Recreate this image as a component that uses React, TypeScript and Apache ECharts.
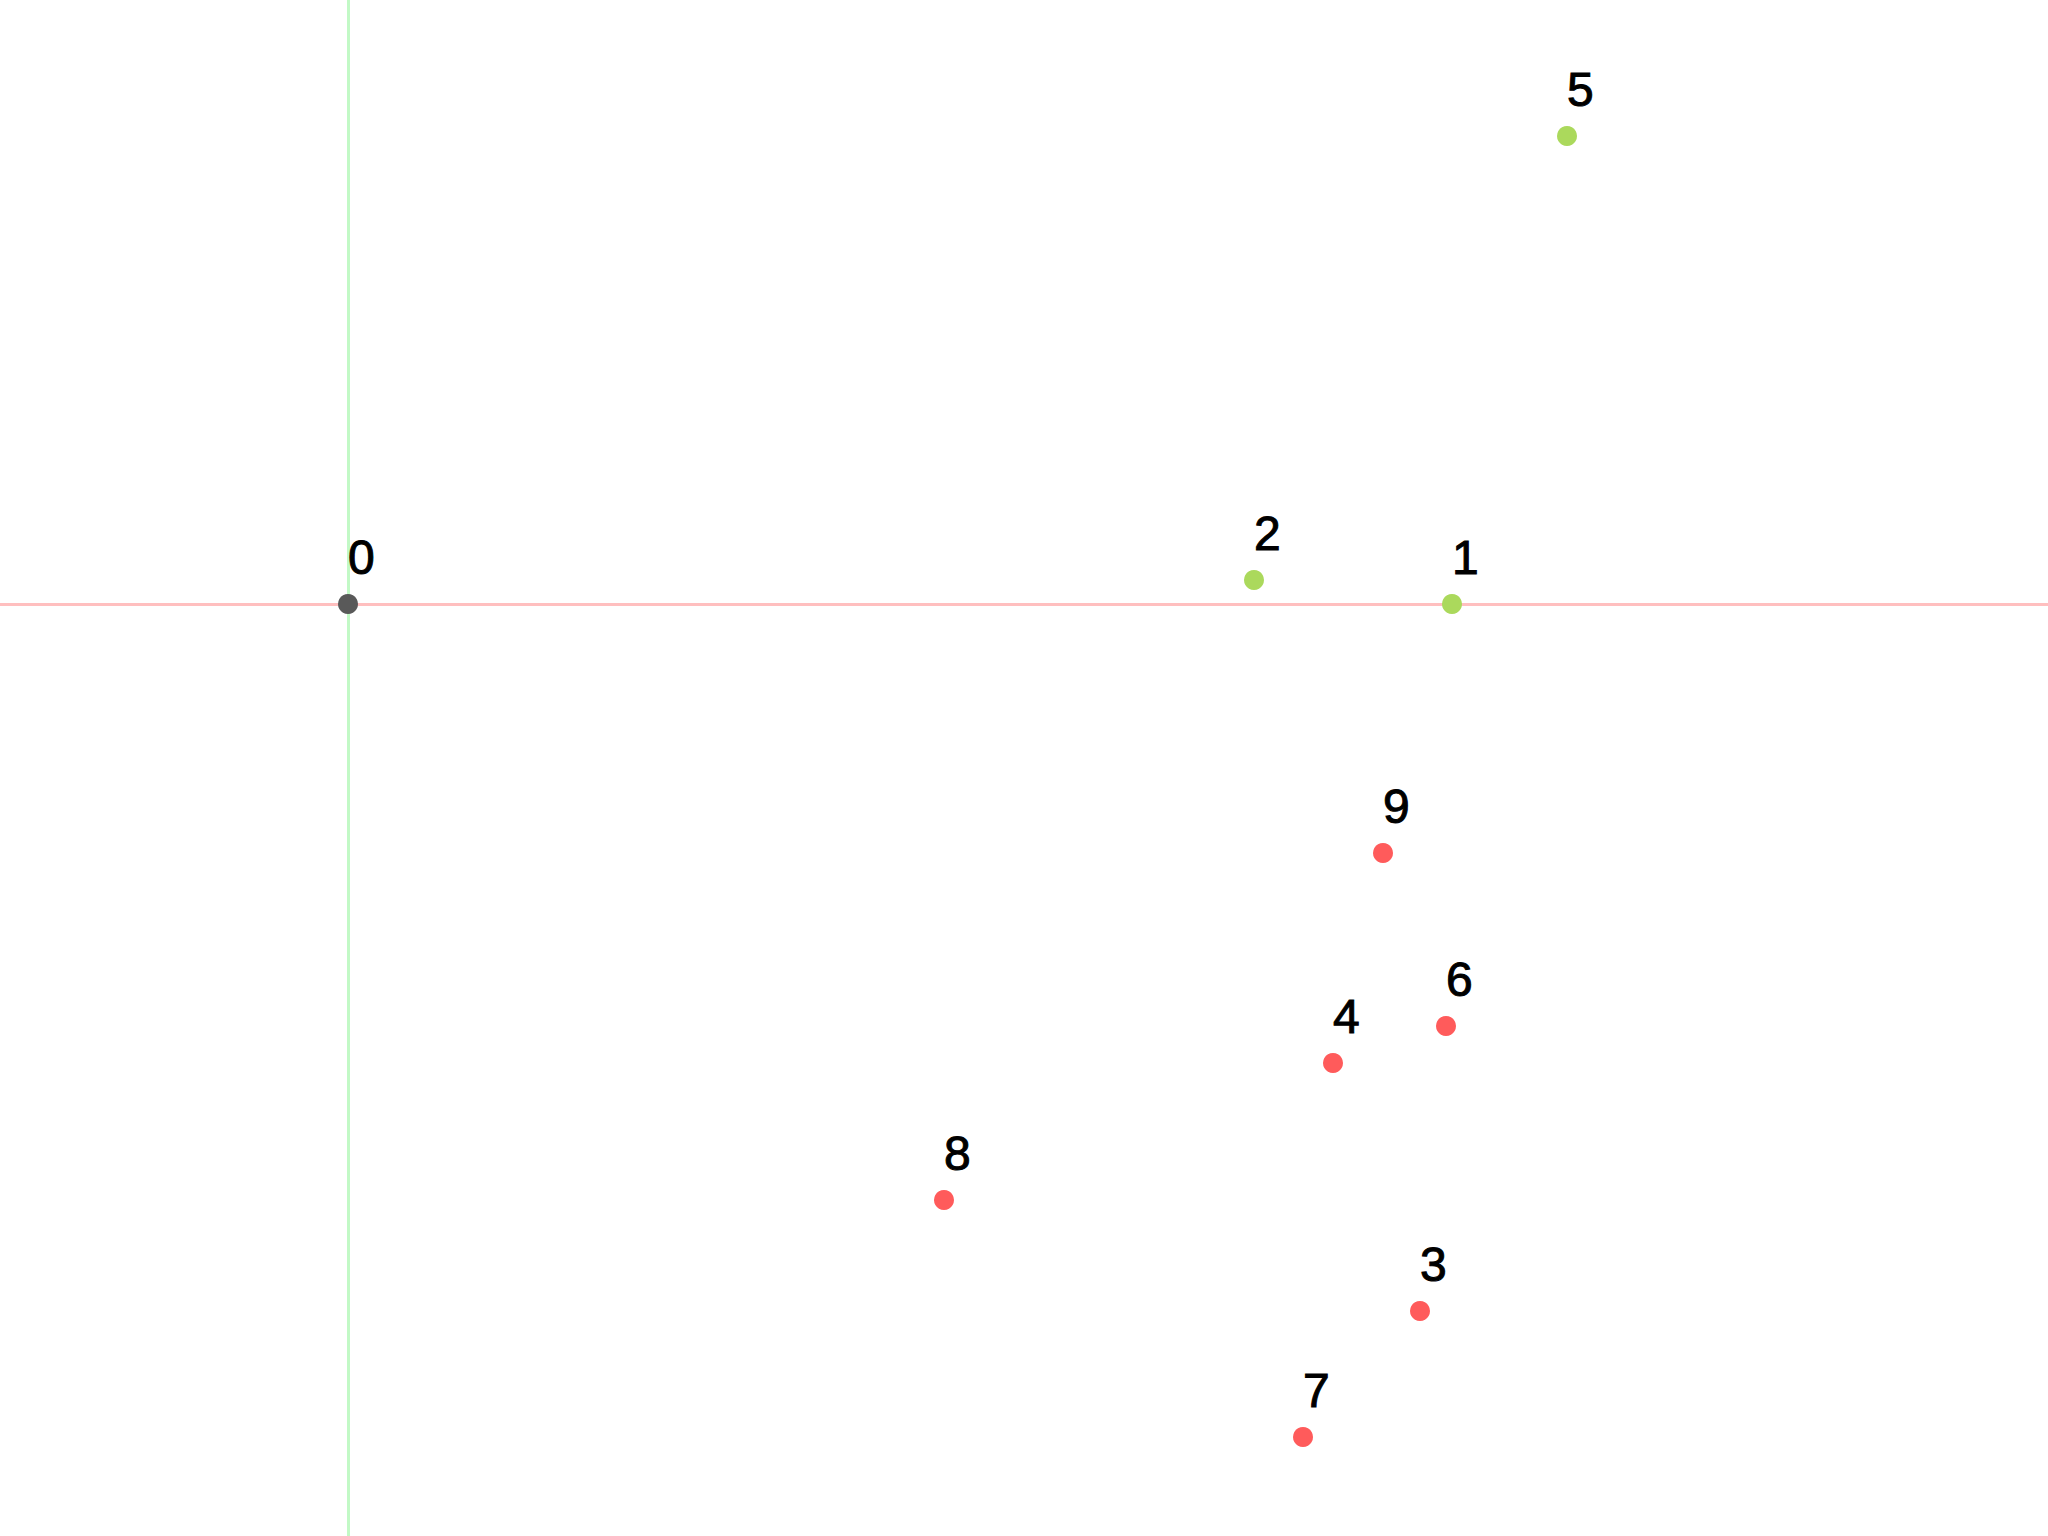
import React, { useEffect, useRef } from "react";
import * as echarts from "echarts";

// Points: [x, y, label]
const originPoints: [number, number, string][] = [[0, 0, "0"]];
const greenPoints: [number, number, string][] = [
  [11.04, 0.0, "1"],
  [9.06, 0.24, "2"],
  [12.19, 4.68, "5"],
];
const redPoints: [number, number, string][] = [
  [10.72, -7.07, "3"],
  [9.85, -4.59, "4"],
  [10.98, -4.22, "6"],
  [9.55, -8.33, "7"],
  [5.96, -5.96, "8"],
  [10.35, -2.49, "9"],
];

const X_MIN = -3.48;
const X_MAX = 17.0;
const Y_MIN = -9.32;
const Y_MAX = 6.04;

export default function App() {
  const ref = useRef<HTMLDivElement>(null);
  useEffect(() => {
    document.body.style.margin = "0";
    const chart = echarts.init(ref.current!, null, { renderer: "svg" });
    const label = {
      show: true,
      position: "top" as const,
      align: "left" as const,
      distance: 13,
      formatter: (p: any) => p.value[2],
      color: "#000",
      fontSize: 48,
      fontFamily: "Liberation Sans",
      textBorderColor: "#000",
      textBorderWidth: 1,
    };
    const mk = (data: any[], color: string) => ({
      type: "scatter",
      z: 5,
      data,
      symbolSize: 20,
      itemStyle: { color, opacity: 1 },
      label,
      emphasis: { disabled: true },
    });
    chart.setOption({
      animation: false,
      backgroundColor: "#ffffff",
      grid: { left: 0, right: 0, top: 0, bottom: 0, containLabel: false },
      xAxis: {
        type: "value",
        min: X_MIN,
        max: X_MAX,
        axisLine: { show: false },
        axisTick: { show: false },
        axisLabel: { show: false },
        splitLine: { show: false },
      },
      yAxis: {
        type: "value",
        min: Y_MIN,
        max: Y_MAX,
        axisLine: { show: false },
        axisTick: { show: false },
        axisLabel: { show: false },
        splitLine: { show: false },
      },
      series: [
        {
          type: "line",
          z: 1,
          data: [],
          markLine: {
            silent: true,
            symbol: "none",
            z: 1,
            label: { show: false },
            data: [
              { xAxis: 0, lineStyle: { color: "#c2f9c6", width: 3, type: "solid" } },
              { yAxis: 0, lineStyle: { color: "#ffbfbf", width: 3, type: "solid" } },
            ],
          },
        },
        mk(redPoints, "#ff5b5b"),
        mk(greenPoints, "#abd95c"),
        mk(originPoints, "#595959"),
      ],
    });
    return () => chart.dispose();
  }, []);
  return (
    <div
      ref={ref}
      style={{ position: "absolute", left: 0, top: 0, width: 2048, height: 1536 }}
    />
  );
}
